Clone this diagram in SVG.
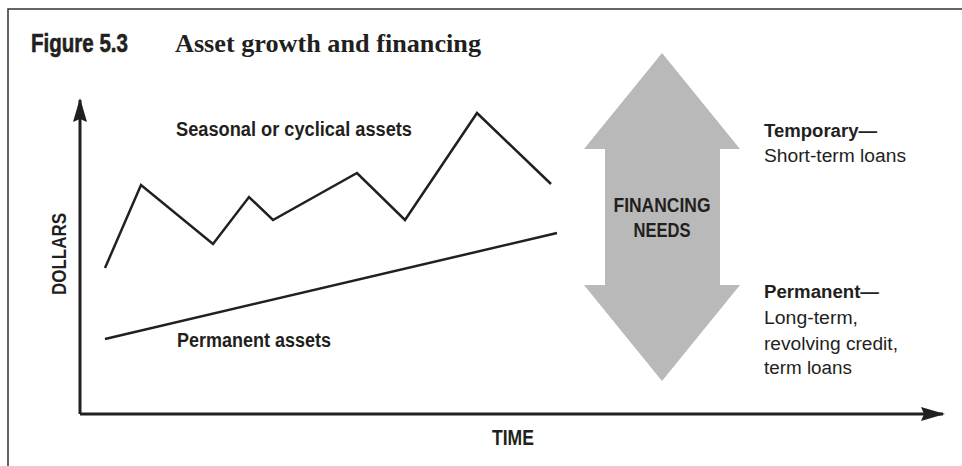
<svg xmlns="http://www.w3.org/2000/svg" width="962" height="466" viewBox="0 0 962 466">
<style>
.t{font-family:"Liberation Sans",Arial,sans-serif;fill:#231f20}
.b{font-weight:bold}
.ln{fill:none;stroke:#231f20;stroke-width:2.5;stroke-linejoin:miter}
.ax{fill:none;stroke:#231f20;stroke-width:3}
</style>
<defs>
<marker id="ah" viewBox="0 0 24 14" refX="22" refY="7" markerWidth="24" markerHeight="14" markerUnits="userSpaceOnUse" orient="auto">
<path d="M0,0 L24,7 L0,14 L3,7 Z" fill="#231f20"/>
</marker>
</defs>
<rect width="962" height="466" fill="#fff"/>
<g id="frame">
<path d="M8,466 V9 H962" fill="none" stroke="#333" stroke-width="1.5"/>
</g>
<g id="title">
<text class="t b" x="31" y="52" font-size="26" textLength="97" lengthAdjust="spacingAndGlyphs" stroke="#231f20" stroke-width="0.6">Figure 5.3</text>
<text x="175" y="52" font-family="'Liberation Serif','Times New Roman',serif" font-weight="bold" font-size="25" fill="#231f20" textLength="306" lengthAdjust="spacingAndGlyphs">Asset growth and financing</text>
</g>
<g id="connectors">
<path class="ax" d="M80,414 V100" marker-end="url(#ah)"/>
<path class="ax" d="M80,414 H943" marker-end="url(#ah)"/>
<polyline class="ln" points="105,268 141,185 213,244 249,197 273,220 357,173 405,220 477,113 551,184"/>
<line class="ln" x1="105" y1="339" x2="557" y2="233"/>
</g>
<g id="financing-arrow">
<polygon points="662,53 740,149 720,149 720,285 740,285 662,381 584,285 605,285 605,149 584,149" fill="#b9b9b9"/>
<text class="t b" x="662" y="212" font-size="21" text-anchor="middle" textLength="97" lengthAdjust="spacingAndGlyphs">FINANCING</text>
<text class="t b" x="662" y="237" font-size="21" text-anchor="middle" textLength="57" lengthAdjust="spacingAndGlyphs">NEEDS</text>
</g>
<g id="labels">
<text class="t b" x="176" y="136" font-size="20" textLength="236" lengthAdjust="spacingAndGlyphs">Seasonal or cyclical assets</text>
<text class="t b" x="177" y="347" font-size="20" textLength="154" lengthAdjust="spacingAndGlyphs">Permanent assets</text>
<text class="t b" transform="translate(66,254) rotate(-90)" x="0" y="0" font-size="21" text-anchor="middle" textLength="82" lengthAdjust="spacingAndGlyphs">DOLLARS</text>
<text class="t b" x="513" y="445" font-size="22" text-anchor="middle" textLength="42" lengthAdjust="spacingAndGlyphs">TIME</text>
</g>
<g id="temporary">
<text class="t b" x="764" y="137" font-size="18" textLength="113" lengthAdjust="spacingAndGlyphs">Temporary—</text>
<text class="t" x="764" y="162" font-size="18" textLength="142" lengthAdjust="spacingAndGlyphs">Short-term loans</text>
</g>
<g id="permanent">
<text class="t b" x="764" y="298" font-size="18" textLength="115" lengthAdjust="spacingAndGlyphs">Permanent—</text>
<text class="t" x="764" y="324" font-size="18" textLength="94" lengthAdjust="spacingAndGlyphs">Long-term,</text>
<text class="t" x="764" y="350" font-size="18" textLength="134" lengthAdjust="spacingAndGlyphs">revolving credit,</text>
<text class="t" x="764" y="374" font-size="18" textLength="88" lengthAdjust="spacingAndGlyphs">term loans</text>
</g>
</svg>
